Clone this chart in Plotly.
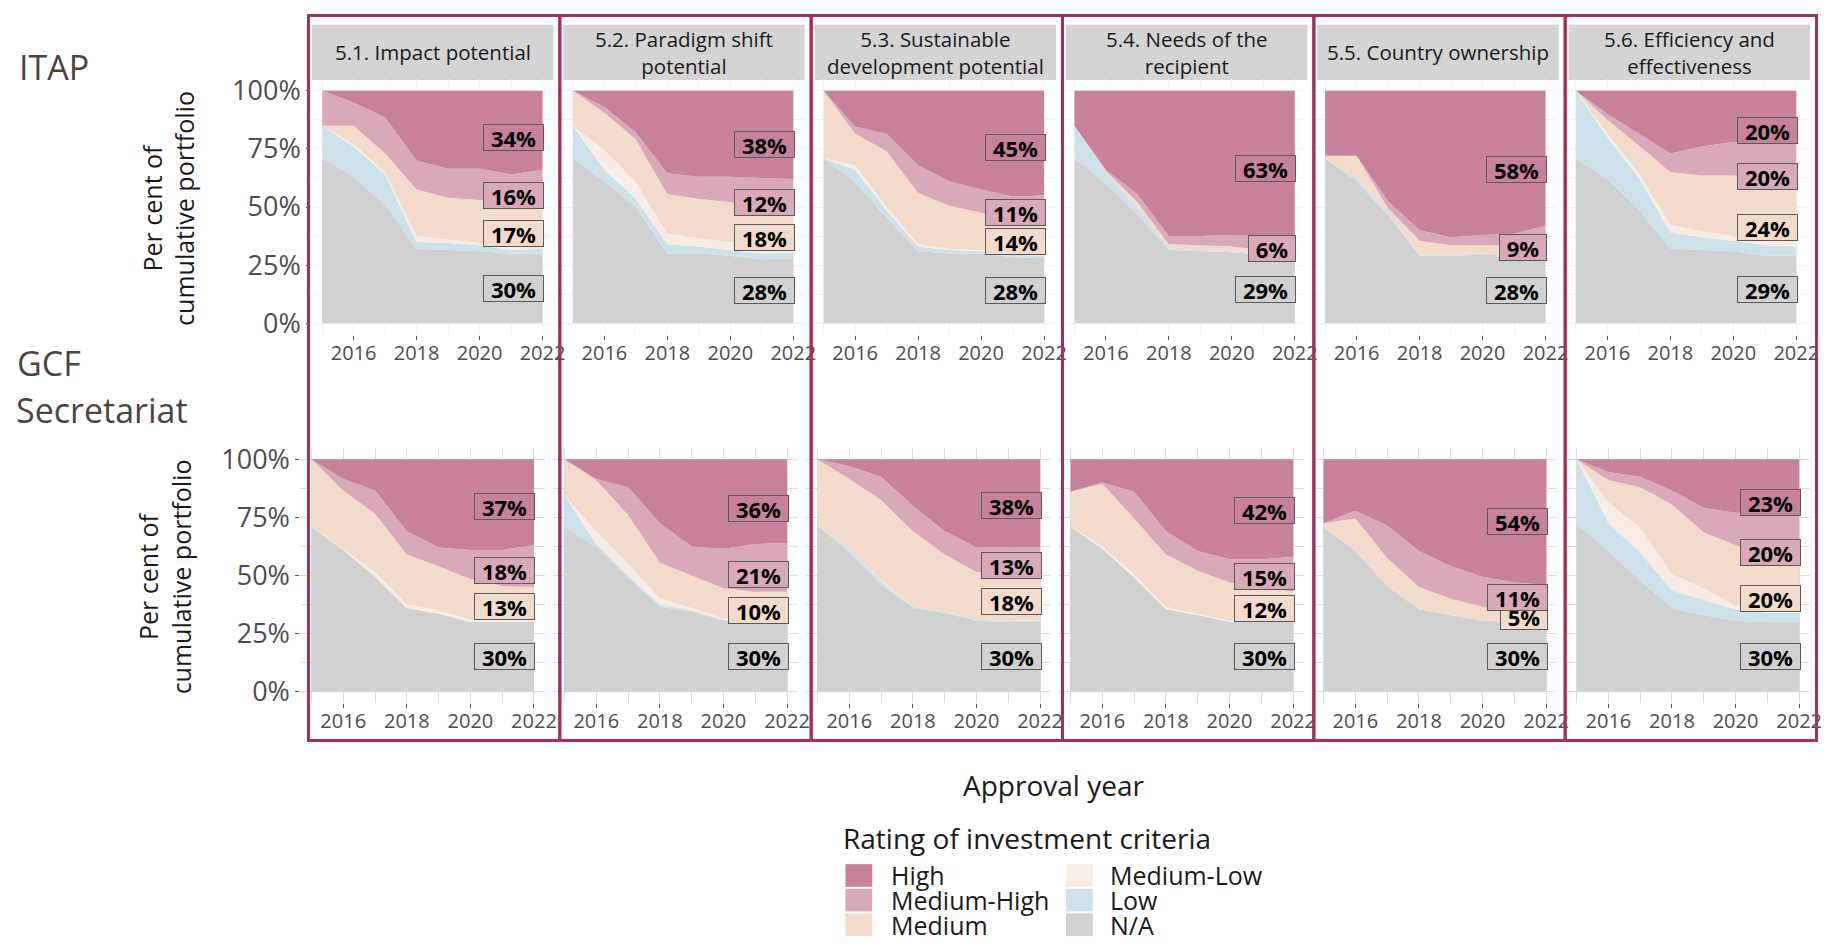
import plotly.graph_objects as go

W, H = 1832, 946

YEARS = [2015, 2016, 2017, 2018, 2019, 2020, 2021, 2022]
# stacking order, bottom -> top
CATEGORIES = ['N/A', 'Low', 'Medium-Low', 'Medium', 'Medium-High', 'High']
COLORS = {
    'High': '#C8819A',
    'Medium-High': '#D9A9B9',
    'Medium': '#F3DBCB',
    'Medium-Low': '#F9ECE5',
    'Low': '#CDE1EB',
    'N/A': '#D1D1D1',
}
PANEL_TITLES = [
    '5.1. Impact potential',
    '5.2. Paradigm shift<br>potential',
    '5.3. Sustainable<br>development potential',
    '5.4. Needs of the<br>recipient',
    '5.5. Country ownership',
    '5.6. Efficiency and<br>effectiveness',
]
X_TICKS = [2016, 2018, 2020, 2022]
Y_TICKS = [0, 25, 50, 75, 100]
Y_TICKTEXT = ['0%', '25%', '50%', '75%', '100%']

# ITAP ratings, per cent of cumulative portfolio
itap_impact = {
    'N/A': [71, 63, 51, 32, 31.5, 31, 30, 30],
    'Low': [14, 13, 13, 3, 3, 2.5, 1.5, 2],
    'Medium-Low': [0, 1, 1, 2.5, 1.5, 1, 1.5, 1],
    'Medium': [0, 8, 8, 20, 18, 18.5, 18, 17],
    'Medium-High': [15, 10, 15.5, 12.5, 12.5, 13.5, 13, 16],
    'High': [0, 5, 11.5, 30, 33.5, 33.5, 36, 34],
}
itap_paradigm = {
    'N/A': [71, 61, 50, 30, 30, 29, 27.5, 28],
    'Low': [14, 5, 3.5, 4, 3, 2.5, 2.5, 2.5],
    'Medium-Low': [0, 8.5, 7, 4.5, 3.5, 3.5, 1.5, 1.5],
    'Medium': [15, 16, 18.5, 17, 17, 17, 18.5, 18],
    'Medium-High': [0, 2.5, 3, 9, 9.5, 11, 12.5, 12],
    'High': [0, 7, 18, 35.5, 37, 37, 37.5, 38],
}
itap_sustainable = {
    'N/A': [71, 60.5, 45.5, 31, 30, 30, 28.5, 28],
    'Low': [0, 5.5, 3, 2, 1.5, 1, 1, 1],
    'Medium-Low': [0, 2, 1.5, 1, 0.5, 0.5, 0.5, 1],
    'Medium': [29, 13.5, 24, 22, 18.5, 16, 14.5, 14],
    'Medium-High': [0, 3, 7.5, 12, 10.5, 10, 10, 11],
    'High': [0, 15.5, 18.5, 32, 39, 42.5, 45.5, 45],
}
itap_needs = {
    'N/A': [71, 60, 47, 31.5, 31, 30.5, 29.5, 29],
    'Low': [14, 4.5, 3, 0.5, 0.5, 0.5, 0.5, 0.5],
    'Medium-Low': [0, 0, 0, 0, 0, 0, 0, 0],
    'Medium': [0, 1, 2, 2, 2, 2, 1.5, 1.5],
    'Medium-High': [0, 0.5, 3.5, 3.5, 4, 5, 6.5, 6],
    'High': [15, 34, 44.5, 62.5, 62.5, 62, 62, 63],
}
itap_ownership = {
    'N/A': [71, 61, 46.5, 29, 29, 29.5, 29, 28],
    'Low': [0, 1.5, 1, 0.5, 0.5, 0.5, 0.5, 0.5],
    'Medium-Low': [0, 0, 0, 0, 0, 0, 0, 0],
    'Medium': [1, 9.5, 2, 6, 4, 3.5, 4, 4.5],
    'Medium-High': [0, 0, 3, 4.5, 3.5, 4.5, 5, 9],
    'High': [28, 28, 47.5, 60, 63, 62, 61.5, 58],
}
itap_efficiency = {
    'N/A': [71, 62, 49, 32, 31.5, 31, 29, 29],
    'Low': [29, 18, 13.5, 7, 5.5, 4.5, 4.5, 4],
    'Medium-Low': [0, 1.5, 2, 3.5, 2.5, 2, 2.5, 3],
    'Medium': [0, 6, 12, 22.5, 24, 26, 26, 24],
    'Medium-High': [0, 2.5, 5, 8, 12.5, 14.5, 17, 20],
    'High': [0, 10, 18.5, 27, 24, 22, 21, 20],
}

# GCF Secretariat ratings
gcf_impact = {
    'N/A': [71, 61, 49.5, 36, 33.5, 30, 30, 30],
    'Low': [0, 0, 0, 0, 0, 0, 0, 0],
    'Medium-Low': [0, 0.5, 2, 1.5, 1.5, 1, 1, 2],
    'Medium': [29, 25, 25, 21.5, 19, 17.5, 14.5, 13],
    'Medium-High': [0, 5, 10, 10, 8, 12.5, 15.5, 18],
    'High': [0, 8.5, 13.5, 31, 38, 39, 39, 37],
}
gcf_paradigm = {
    'N/A': [71, 62, 49, 36.5, 34.5, 30.5, 30, 30],
    'Low': [13.5, 1.5, 1, 1, 0.5, 0.5, 1, 1],
    'Medium-Low': [0, 5.5, 5, 2.5, 1, 0.5, 1.5, 2],
    'Medium': [15.5, 22, 21, 15.5, 14, 13, 10.5, 10],
    'Medium-High': [0, 0.5, 12, 17, 12.5, 17, 20.5, 21],
    'High': [0, 8.5, 12, 27.5, 37.5, 38.5, 36.5, 36],
}
gcf_sustainable = {
    'N/A': [71.5, 60, 46, 36, 34, 30.5, 30, 30],
    'Low': [0, 1.5, 1.5, 0.5, 0.5, 0.5, 0.5, 0.5],
    'Medium-Low': [0, 0, 0.5, 0, 0, 0, 0, 0.5],
    'Medium': [28.5, 30, 34.5, 32.5, 24.5, 20.5, 19, 18],
    'Medium-High': [0, 5.5, 10, 11, 10, 10.5, 12.5, 13],
    'High': [0, 3, 7.5, 20, 31, 38, 38, 38],
}
gcf_needs = {
    'N/A': [71, 61.5, 49, 35.5, 33, 30, 30, 30],
    'Low': [0, 0, 0, 0, 0, 0, 0, 0],
    'Medium-Low': [0, 1, 1.5, 1, 0.5, 0.5, 0.5, 1],
    'Medium': [15, 27, 24, 22.5, 18.5, 16.5, 14.5, 12],
    'Medium-High': [0, 0.5, 11.5, 10, 8.5, 10, 12, 15],
    'High': [14, 10, 14, 31, 39.5, 43, 43, 42],
}
gcf_ownership = {
    'N/A': [71, 60.5, 45.5, 35.5, 33, 30.5, 30, 30],
    'Low': [0, 0, 0, 0, 0, 0, 0, 0],
    'Medium-Low': [0, 0, 0, 0, 0, 0, 0, 0],
    'Medium': [1.5, 14, 12, 9.5, 7, 6, 5.5, 5],
    'Medium-High': [0, 3.5, 14, 15.5, 14, 13, 11.5, 11],
    'High': [27.5, 22, 28.5, 39.5, 46, 50.5, 53, 54],
}
gcf_efficiency = {
    'N/A': [72, 60.5, 48, 36, 33, 30.5, 30, 30],
    'Low': [28, 12, 12, 7.5, 6.5, 5, 4, 4],
    'Medium-Low': [0, 9, 10.5, 7, 5, 1.5, 2, 3],
    'Medium': [0, 9.5, 17.5, 30, 24, 26, 23, 20],
    'Medium-High': [0, 3.5, 4.5, 6, 10.5, 14, 18, 20],
    'High': [0, 5.5, 7.5, 13.5, 21, 23, 23, 23],
}

ITAP = [itap_impact, itap_paradigm, itap_sustainable, itap_needs, itap_ownership, itap_efficiency]
GCF = [gcf_impact, gcf_paradigm, gcf_sustainable, gcf_needs, gcf_ownership, gcf_efficiency]

FONT = 'Open Sans'
BORDER = '#A3325A'

# pixel geometry (panel incl. ggplot-style 5% expansion)
ROWS = [
    dict(x0=313.2, step=252.4, w=244.0, y0=72.2, y1=331.8, grid='#F2F2F2'),
    dict(x0=302.3, step=254.7, w=246.4, y0=446.2, y1=705.8, grid='#DCDCDC'),
]
COL_LEFT = [310.5, 563.5, 816.5, 1069.5, 1322.5, 1575.5]
COL_W = 253


def px(x, y):
    return x / W, 1 - y / H


def sfx(n):
    return '' if n == 1 else str(n)


fig = go.Figure()
shapes = []
annotations = []

for r, row_data in enumerate([ITAP, GCF]):
    g = ROWS[r]
    for c, data in enumerate(row_data):
        n = r * 6 + c + 1
        s = sfx(n)
        for cat in CATEGORIES:
            fig.add_trace(go.Scatter(
                x=YEARS, y=data[cat], name=cat,
                stackgroup=f'g{n}', mode='lines',
                line=dict(width=0), fillcolor=COLORS[cat],
                xaxis='x' + s, yaxis='y' + s, showlegend=False,
                hovertemplate=cat + ' %{x}: %{y}%<extra></extra>',
            ))

        x0 = g['x0'] + c * g['step']
        fig.layout['xaxis' + s] = dict(
            domain=[x0 / W, (x0 + g['w']) / W], anchor='y' + s,
            range=[2014.65, 2022.35], tickvals=X_TICKS,
            ticks='outside', ticklen=4, tickcolor='#555555',
            ticklabelstandoff=-4,
            tickfont=dict(size=20, color='#4D4D4D'),
            showgrid=True, gridcolor=g['grid'], gridwidth=1,
            minor=dict(tickvals=[2015, 2017, 2019, 2021], showgrid=True, gridcolor=g['grid']),
            zeroline=False, showline=False,
        )
        fig.layout['yaxis' + s] = dict(
            domain=[1 - g['y1'] / H, 1 - g['y0'] / H], anchor='x' + s,
            range=[-5, 105], tickvals=Y_TICKS, ticktext=Y_TICKTEXT,
            showticklabels=(c == 0), ticks='outside' if c == 0 else '',
            ticklen=4, tickcolor='#555555',
            tickfont=dict(size=27, color='#4D4D4D'),
            showgrid=True, gridcolor=g['grid'], gridwidth=1,
            minor=dict(tickvals=[12.5, 37.5, 62.5, 87.5], showgrid=True, gridcolor=g['grid']),
            zeroline=False, showline=False,
        )

        # end-of-period labels, stacked from labelled shares only
        cum = 0
        for cat in CATEGORIES:
            v = data[cat][-1]
            if v < 5:
                continue
            txt = f'{v:.0f}%'
            annotations.append(dict(
                x=YEARS[-1], y=cum + v / 2, xref='x' + s, yref='y' + s,
                text=f'<b>{txt}</b>', showarrow=False,
                xanchor='right', yanchor='middle', xshift=1.5,
                bgcolor=COLORS[cat], bordercolor='#5A5A5A', borderwidth=1, borderpad=1,
                width=13 * len(txt) + 18, height=23,
                font=dict(family=FONT, size=22, color='black'),
            ))
            cum += v

# strips and column frames
for c, title in enumerate(PANEL_TITLES):
    left = COL_LEFT[c]
    sx0, sy0 = px(left + 3.5, 17)
    sx1, sy1 = px(left + 246.5, 73)
    shapes.append(dict(type='rect', xref='paper', yref='paper', layer='below',
                       x0=sx0, x1=sx1, y0=sy1, y1=sy0,
                       fillcolor='#D4D4D4', line=dict(width=0)))
    tx, ty = px(left + 125, 45)
    annotations.append(dict(x=tx, y=ty, xref='paper', yref='paper', text=title,
                            showarrow=False, xanchor='center', yanchor='middle',
                            font=dict(family=FONT, size=20.5, color='#1A1A1A')))
    bx0, by0 = px(left, 7.5)
    bx1, by1 = px(left + COL_W, 743.5)
    shapes.append(dict(type='rect', xref='paper', yref='paper', layer='above',
                       x0=bx0, x1=bx1, y0=by1, y1=by0,
                       line=dict(color=BORDER, width=3), fillcolor='rgba(0,0,0,0)'))

# row names and axis titles
for text, (x, y) in [('ITAP', (17, 60)), ('GCF', (15, 360)), ('Secretariat', (14, 408))]:
    ax, ay = px(x, y)
    annotations.append(dict(x=ax, y=ay, xref='paper', yref='paper', text=text,
                            showarrow=False, xanchor='left', yanchor='middle',
                            font=dict(family=FONT, size=34, color='#4A4540')))

for x, y in [(170, 203), (166, 577)]:
    ax, ay = px(x, y)
    annotations.append(dict(x=ax, y=ay, xref='paper', yref='paper',
                            text='Per cent of<br>cumulative portfolio', textangle=-90,
                            showarrow=False, xanchor='center', yanchor='middle',
                            font=dict(family=FONT, size=25, color='#1A1A1A')))

ax, ay = px(1060, 789)
annotations.append(dict(x=ax, y=ay, xref='paper', yref='paper', text='Approval year',
                        showarrow=False, xanchor='center', yanchor='middle',
                        font=dict(family=FONT, size=28, color='#1A1A1A')))

# legend (two columns, ggplot-like)
ax, ay = px(847, 842)
annotations.append(dict(x=ax, y=ay, xref='paper', yref='paper',
                        text='Rating of investment criteria',
                        showarrow=False, xanchor='left', yanchor='middle',
                        font=dict(family=FONT, size=28, color='#1A1A1A')))
legend_order = CATEGORIES[::-1]
for i, cat in enumerate(legend_order):
    col, row = divmod(i, 3)
    sw_left = [851, 1073][col]
    cy = 880.5 + 25 * row
    x0, y0 = px(sw_left, cy - 11.5)
    x1, y1 = px(sw_left + 27, cy + 11.5)
    shapes.append(dict(type='rect', xref='paper', yref='paper',
                       x0=x0, x1=x1, y0=y1, y1=y0,
                       fillcolor=COLORS[cat], line=dict(width=0)))
    tx, ty = px([895, 1115][col], cy)
    annotations.append(dict(x=tx, y=ty, xref='paper', yref='paper', text=cat,
                            showarrow=False, xanchor='left', yanchor='middle',
                            font=dict(family=FONT, size=25, color='#1A1A1A')))

fig.update_layout(
    width=W, height=H, autosize=False,
    margin=dict(l=0, r=0, t=0, b=0),
    paper_bgcolor='white', plot_bgcolor='white',
    font=dict(family=FONT, color='#1A1A1A'),
    shapes=shapes, annotations=annotations,
    showlegend=False,
)

fig.write_html('out.html', config={'displayModeBar': False},
               post_script="document.body.style.margin='0';")
